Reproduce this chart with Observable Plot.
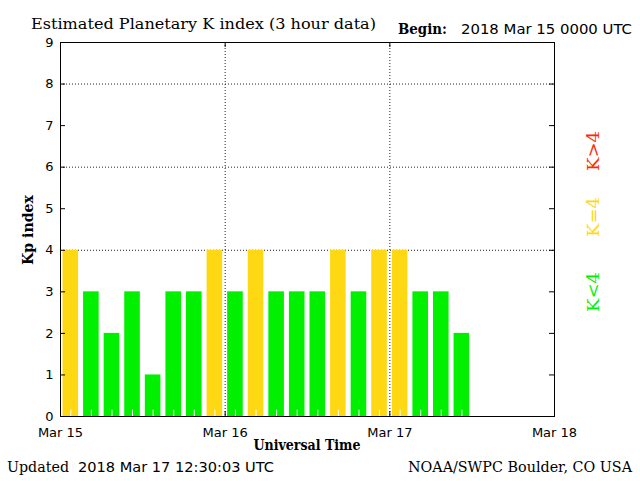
<!DOCTYPE html>
<html>
<head>
<meta charset="utf-8">
<script src="https://cdn.jsdelivr.net/npm/d3@7"></script>
<script src="https://cdn.jsdelivr.net/npm/@observablehq/plot@0.6"></script>
<style>
  html, body { margin: 0; padding: 0; background: #fff; }
  #chart svg { display: block; }
</style>
</head>
<body>
<div id="chart"></div>
<script>
// ---- data ----
const kpValues = [4, 3, 2, 3, 1, 3, 3, 4, 3, 4, 3, 3, 3, 4, 3, 4, 4, 3, 3, 2];
const startTime = new Date(Date.UTC(2018, 2, 15, 0, 0));
const endTime = new Date(Date.UTC(2018, 2, 18, 0, 0));
const intervalHours = 3;
const dayTicks = [
  new Date(Date.UTC(2018, 2, 15)),
  new Date(Date.UTC(2018, 2, 16)),
  new Date(Date.UTC(2018, 2, 17)),
  new Date(Date.UTC(2018, 2, 18))
];
const innerDayTicks = dayTicks.slice(1, 3);
const yTicks = [0, 1, 2, 3, 4, 5, 6, 7, 8, 9];
const yGrid = [4, 6, 8];
const titleText = "Estimated Planetary K index (3 hour data)";
const beginLabel = "Begin:";
const beginText = "2018 Mar 15 0000 UTC";
const updatedLabel = "Updated";
const updatedText = "2018 Mar 17 12:30:03 UTC";
const creditText = "NOAA/SWPC Boulder, CO USA";
const xLabel = "Universal Time";
const yLabel = "Kp index";
const legendItems = [
  {label: "K>4", color: "#ff2a00"},
  {label: "K=4", color: "#ffd814"},
  {label: "K<4", color: "#00f000"}
];

const H = 3600 * 1000;
const bars = kpValues.map((kp, i) => ({
  t1: new Date(+startTime + i * intervalHours * H),
  t2: new Date(+startTime + (i + 1) * intervalHours * H),
  mid: new Date(+startTime + (i + 0.5) * intervalHours * H),
  kp
}));
const colorFor = kp => kp > 4 ? legendItems[0].color : kp === 4 ? legendItems[1].color : legendItems[2].color;

const W = 640, HT = 481, ML = 60, MR = 86, MT = 42, MB = 65;
const frameW = W - ML - MR, frameH = HT - MT - MB;
const tickLen = 5;
const dotted = {stroke: "#222", strokeOpacity: 1, strokeDasharray: "1,2"};

const plot = Plot.plot({
  width: W,
  height: HT,
  marginLeft: ML,
  marginRight: MR,
  marginTop: MT,
  marginBottom: MB,
  style: {fontFamily: "DejaVu Sans", fontSize: "13px", color: "#000", background: "#fff"},
  x: {type: "utc", domain: [startTime, endTime]},
  y: {domain: [0, 9]},
  marks: [
    Plot.gridY(yGrid, dotted),
    Plot.gridX(innerDayTicks, dotted),
    Plot.rectY(bars, {x1: "t1", x2: "t2", y: "kp", fill: d => colorFor(d.kp), insetLeft: 2.5, insetRight: 2.5}),
    Plot.ruleX(bars, {x: "mid", y1: 0, y2: 0.15, stroke: "white", strokeWidth: 1}),
    // inward ticks
    Plot.tickY(yTicks, {y: d => d, insetRight: frameW - tickLen, stroke: "black"}),
    Plot.tickY(yTicks, {y: d => d, insetLeft: frameW - tickLen, stroke: "black"}),
    Plot.tickX(innerDayTicks, {x: d => d, insetTop: frameH - tickLen, stroke: "black"}),
    Plot.tickX(innerDayTicks, {x: d => d, insetBottom: frameH - tickLen, stroke: "black"}),
    // labels
    Plot.axisY(yTicks, {anchor: "left", tickSize: 0, tickPadding: 7, tickFormat: d => String(d), label: null, fontSize: 13}),
    Plot.axisX(dayTicks, {anchor: "bottom", tickSize: 0, tickPadding: 11, tickFormat: d3.utcFormat("%b %-d"), label: null, fontSize: 13}),
    Plot.frame({stroke: "black"})
  ]
});

const svg = d3.select(plot);
function addText(txt, x, y, opts = {}) {
  const t = svg.append("text")
    .attr("x", x).attr("y", y)
    .attr("font-family", opts.family || "DejaVu Serif")
    .attr("font-size", opts.size || 15)
    .attr("font-weight", opts.weight || "normal")
    .attr("fill", opts.fill || "#000")
    .attr("text-anchor", opts.anchor || "start")
    .text(txt);
  if (opts.len) t.attr("textLength", opts.len).attr("lengthAdjust", "spacingAndGlyphs");
  if (opts.rotate) t.attr("transform", `rotate(${opts.rotate},${x},${y})`);
  return t;
}
addText(titleText, 31, 29, {size: 15, len: 345});
addText(beginLabel, 398, 34, {size: 14, weight: "bold", len: 49});
addText(beginText, 461, 34, {family: "DejaVu Sans", size: 14, len: 171});
addText(xLabel, 307, 450, {size: 14, weight: "bold", anchor: "middle", len: 107});
addText(updatedLabel, 7, 472, {size: 15, len: 62});
addText(updatedText, 78, 472, {family: "DejaVu Sans", size: 14, len: 196});
addText(creditText, 408, 472, {size: 14, len: 224});
addText(yLabel, 33, 230, {size: 15, weight: "bold", anchor: "middle", rotate: -90, len: 70});
const legendY = [151, 217, 292];
legendItems.forEach((d, i) => {
  addText(d.label, 599, legendY[i], {size: 17, anchor: "middle", rotate: -90, fill: d.color, len: 40});
});

document.getElementById("chart").appendChild(plot);
</script>
</body>
</html>
